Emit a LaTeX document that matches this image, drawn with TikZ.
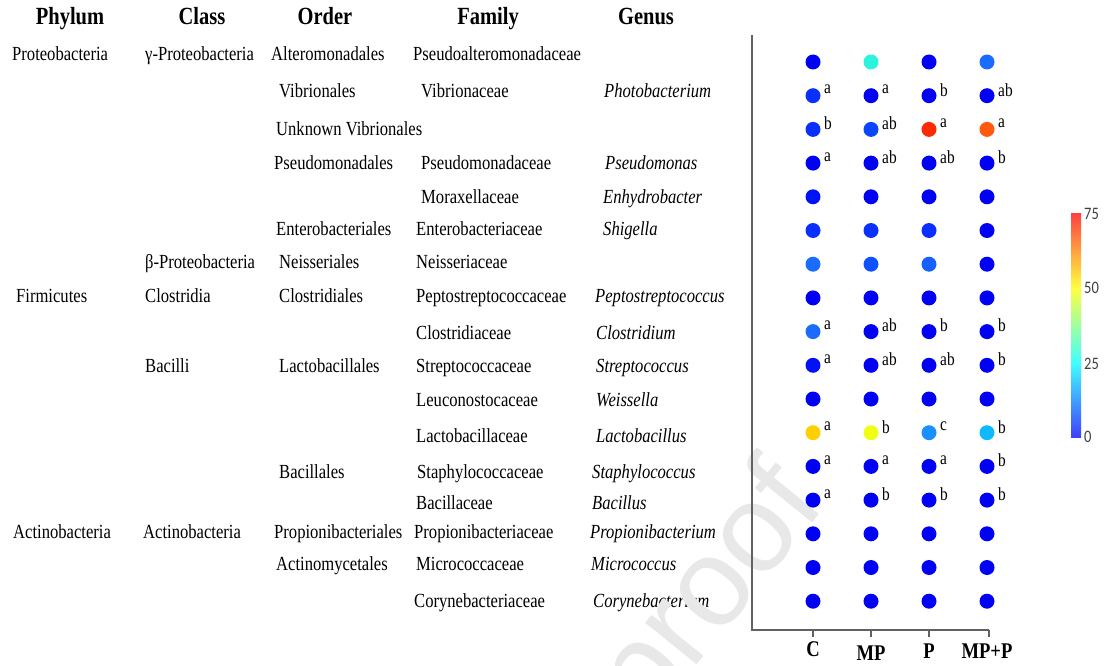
\documentclass[tikz,border=0pt]{standalone}
\usepackage{fontspec}
\setmainfont{Liberation Serif}[FakeStretch=0.83]
\newfontfamily\barfont{Carlito}[FakeStretch=0.83]
\newfontfamily\markfont{Liberation Sans}
\usetikzlibrary{positioning}

\definecolor{sBlue}{HTML}{0000F5}
\definecolor{sBlueA}{HTML}{0212F8}
\definecolor{sBlueB}{HTML}{0A30FF}
\definecolor{sBlueC}{HTML}{0A45FF}
\definecolor{sBlueD}{HTML}{1050FF}
\definecolor{sMid}{HTML}{1A6CFF}
\definecolor{sMidB}{HTML}{1560FF}
\definecolor{sSky}{HTML}{1A90FF}
\definecolor{sCyan}{HTML}{10B8FF}
\definecolor{sTeal}{HTML}{2AF5DC}
\definecolor{sRed}{HTML}{FF2A00}
\definecolor{sOrange}{HTML}{FF5A10}
\definecolor{sGold}{HTML}{FFD000}
\definecolor{sYellow}{HTML}{EEFF14}
\definecolor{cbBlue}{RGB}{64,64,255}
\definecolor{cbCyan}{RGB}{64,255,255}
\definecolor{cbYellow}{RGB}{255,255,64}
\definecolor{cbRed}{RGB}{255,64,64}

\begin{document}
\begin{tikzpicture}[
			x=1pt, y=-1pt,
			header/.style={
				anchor=base,
				inner sep=0pt,
				font=\bfseries\fontsize{24.7}{28}\selectfont
			},
			taxon/.style={
				anchor=base west,
				inner sep=0pt,
				font=\fontsize{20}{24}\selectfont
			},
			genus/.style={
				anchor=base west,
				inner sep=0pt,
				font=\itshape\fontsize{20}{24}\selectfont
			},
			spot/.style={circle, inner sep=0pt, minimum size=15pt},
			letter/.style={anchor=west, inner sep=0pt, font=\fontsize{18.5}{20}\selectfont},
			group/.style={anchor=base, inner sep=0pt, font=\bfseries\fontsize{22.4}{26}\selectfont},
			scalelabel/.style={anchor=west, inner sep=0pt, text=black!75, font=\barfont\fontsize{17.5}{19}\selectfont},
			axisline/.style={draw=black!62, line width=1.2pt}
			]
			\useasboundingbox (0,0) rectangle (1106,666);
			
			% column heads
			\node[header] (hPhylum) at (70,25) {Phylum};
			\node[header] (hClass) at (202,25) {Class};
			\node[header] (hOrder) at (325,25) {Order};
			\node[header] (hFamily) at (488,25) {Family};
			\node[header] (hGenus) at (646,25) {Genus};
			
			% phylum
			\node[taxon] (p1) at (12,61) {Proteobacteria};
			\node[taxon] (p2) at (16,302) {Firmicutes};
			\node[taxon] (p3) at (13,538) {Actinobacteria};
			
			% class
			\node[taxon] (c1) at (145,61) {γ-Proteobacteria};
			\node[taxon] (c2) at (145,268) {β-Proteobacteria};
			\node[taxon] (c3) at (145,302) {Clostridia};
			\node[taxon] (c4) at (145,372) {Bacilli};
			\node[taxon] (c5) at (143,538) {Actinobacteria};
			
			% order
			\node[taxon] (o1) at (271,61) {Alteromonadales};
			\node[taxon] (o2) at (279,98) {Vibrionales};
			\node[taxon] (o3) at (276,136) {Unknown Vibrionales};
			\node[taxon] (o4) at (274,170) {Pseudomonadales};
			\node[taxon] (o5) at (276,235) {Enterobacteriales};
			\node[taxon] (o6) at (279,268) {Neisseriales};
			\node[taxon] (o7) at (279,302) {Clostridiales};
			\node[taxon] (o8) at (279,372) {Lactobacillales};
			\node[taxon] (o9) at (279,478) {Bacillales};
			\node[taxon] (o10) at (274,538) {Propionibacteriales};
			\node[taxon] (o11) at (276,570) {Actinomycetales};
			
			% family
			\node[taxon] (f1) at (413,61) {Pseudoalteromonadaceae};
			\node[taxon] (f2) at (421,98) {Vibrionaceae};
			\node[taxon] (f4) at (421,170) {Pseudomonadaceae};
			\node[taxon] (f5) at (421,203) {Moraxellaceae};
			\node[taxon] (f6) at (416,235) {Enterobacteriaceae};
			\node[taxon] (f7) at (416,268) {Neisseriaceae};
			\node[taxon] (f8) at (416,302) {Peptostreptococcaceae};
			\node[taxon] (f9) at (416,339) {Clostridiaceae};
			\node[taxon] (f10) at (416,372) {Streptococcaceae};
			\node[taxon] (f11) at (416,406) {Leuconostocaceae};
			\node[taxon] (f12) at (416,442) {Lactobacillaceae};
			\node[taxon] (f13) at (417,478) {Staphylococcaceae};
			\node[taxon] (f14) at (416,509) {Bacillaceae};
			\node[taxon] (f15) at (414,538) {Propionibacteriaceae};
			\node[taxon] (f16) at (416,570) {Micrococcaceae};
			\node[taxon] (f17) at (414,607) {Corynebacteriaceae};
			
			% genus
			\node[genus] (g2) at (604,98) {Photobacterium};
			\node[genus] (g4) at (605,170) {Pseudomonas};
			\node[genus] (g5) at (603,204) {Enhydrobacter};
			\node[genus] (g6) at (603,235) {Shigella};
			\node[genus] (g8) at (595,302) {Peptostreptococcus};
			\node[genus] (g9) at (596,339) {Clostridium};
			\node[genus] (g10) at (596,372) {Streptococcus};
			\node[genus] (g11) at (596,406) {Weissella};
			\node[genus] (g12) at (596,442) {Lactobacillus};
			\node[genus] (g13) at (592,478) {Staphylococcus};
			\node[genus] (g14) at (592,509) {Bacillus};
			\node[genus] (g15) at (590,538) {Propionibacterium};
			\node[genus] (g16) at (591,570) {Micrococcus};
			\node[genus] (g17) at (593,607) {Corynebacterium};
			
			% watermark
			\node[anchor=base west, inner sep=0pt, rotate=51, text=black!9,
			font=\markfont\fontsize{125}{125}\selectfont] (mark) at (648,726) {proof};
			
			% axes
			\coordinate (yTop) at (752,35);
			\coordinate (origin) at (752,630);
			\coordinate (xEnd) at (989,630);
			\draw[axisline] (yTop) -- (origin) -- (xEnd);
			\foreach \x/\lab/\nm in {813/C/C, 871/MP/MP, 929/P/P, 989/MP+P/MPP} {
				\coordinate (t\nm) at (\x,630);
				\draw[axisline] (t\nm) -- ++(0,7);
			}
			\node[group] (lC) at (813,656) {C};
			\node[group] (lMP) at (871,660) {MP};
			\node[group] (lP) at (929,658) {P};
			\node[group] (lMPP) at (987,658) {MP+P};
			
			% dots, one row per family
			\foreach \ca/\cb/\cc/\cd [count=\r] in {
				sBlue/sTeal/sBlue/sMid, sBlueB/sBlue/sBlue/sBlue, sBlueB/sBlueC/sRed/sOrange,
				sBlue/sBlue/sBlue/sBlue, sBlueA/sBlue/sBlue/sBlue, sBlueB/sBlueB/sBlueB/sBlue,
				sMid/sBlueD/sMidB/sBlue, sBlue/sBlue/sBlue/sBlue, sMid/sBlue/sBlue/sBlue,
				sBlueA/sBlue/sBlue/sBlue, sBlue/sBlue/sBlue/sBlue, sGold/sYellow/sSky/sCyan,
				sBlue/sBlue/sBlue/sBlue, sBlue/sBlue/sBlue/sBlue, sBlue/sBlue/sBlue/sBlue,
				sBlue/sBlue/sBlue/sBlue, sBlue/sBlue/sBlue/sBlue} {
				\pgfmathsetmacro{\yy}{62+33.7*(\r-1)}
				\node[spot, fill=\ca] (d-\r-1) at (813,\yy) {};
				\node[spot, fill=\cb] (d-\r-2) at (871,\yy) {};
				\node[spot, fill=\cc] (d-\r-3) at (929,\yy) {};
				\node[spot, fill=\cd] (d-\r-4) at (987,\yy) {};
			}
			
			% significance letters
			\foreach \k/\r/\t in {1/2/a, 2/2/a, 3/2/b, 4/2/ab,
				1/3/b, 2/3/ab, 3/3/a, 4/3/a,
				1/4/a, 2/4/ab, 3/4/ab, 4/4/b,
				1/9/a, 2/9/ab, 3/9/b, 4/9/b,
				1/10/a, 2/10/ab, 3/10/ab, 4/10/b,
				1/12/a, 2/12/b, 3/12/c, 4/12/b,
				1/13/a, 2/13/a, 3/13/a, 4/13/b,
				1/14/a, 2/14/b, 3/14/b, 4/14/b}
				\node[letter] (s-\r-\k) at ([shift={(11,-6)}]d-\r-\k.center) {\t};
			
			% colour scale
			\coordinate (cb0) at (1071,437);
			\coordinate (cb25) at (1071,363);
			\coordinate (cb50) at (1071,288);
			\coordinate (cb75) at (1071,213);
			\fill[bottom color=cbBlue, top color=cbCyan] (cb0) rectangle ([xshift=10pt]cb25);
			\fill[bottom color=cbCyan, top color=cbYellow] (cb25) rectangle ([xshift=10pt]cb50);
			\fill[bottom color=cbYellow, top color=cbRed] (cb50) rectangle ([xshift=10pt]cb75);
			\node[scalelabel] (v0) at (1084,437) {0};
			\node[scalelabel] (v25) at (1084,364) {25};
			\node[scalelabel] (v50) at (1084,288) {50};
			\node[scalelabel] (v75) at (1084,214) {75};
		\end{tikzpicture}
\end{document}
